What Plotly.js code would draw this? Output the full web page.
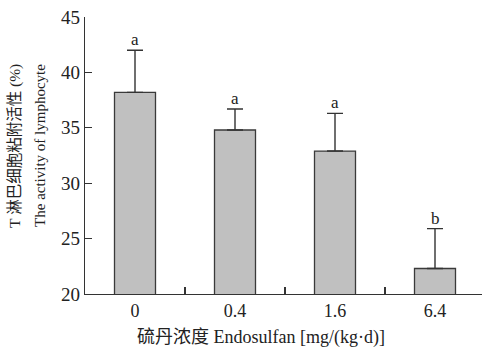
<!DOCTYPE html>
<html>
<head>
<meta charset="utf-8">
<script src="https://cdn.plot.ly/plotly-3.0.1.min.js"></script>
<style>html,body{margin:0;padding:0;background:#fff;}#chart{width:482px;height:347px;}</style>
</head>
<body>
<div id="chart"></div>
<script>
const categories = ["0", "0.4", "1.6", "6.4"];
const activity = [38.2, 34.8, 32.9, 22.3];
const errorUp = [3.8, 1.9, 3.4, 3.6];
const letters = ["a", "a", "a", "b"];
const yTicks = [20, 25, 30, 35, 40, 45];

const serif = "Liberation Serif, Noto Sans CJK SC, serif";

const trace = {
  type: "bar",
  x: categories,
  y: activity,
  width: 0.41,
  marker: {color: "#c0c0c0", line: {color: "#3a3a3a", width: 1.3}},
  error_y: {type: "data", symmetric: false, array: errorUp,
            arrayminus: activity.map(() => 0),
            color: "#333", thickness: 1.4, width: 8}
};

const annotations = categories.map((c, i) => ({
  x: i, y: activity[i] + errorUp[i], xref: "x", yref: "y",
  text: letters[i], showarrow: false, yanchor: "bottom", yshift: -1,
  font: {family: serif, size: 17, color: "#222"}
}));

annotations.push({
  xref: "paper", yref: "paper", x: -0.176, y: 0.535, xanchor: "center", yanchor: "middle",
  text: "T 淋巴细胞粘附活性 (%)", textangle: -90, showarrow: false,
  font: {family: serif, size: 15.5, color: "#222"}
});
annotations.push({
  xref: "paper", yref: "paper", x: -0.113, y: 0.535, xanchor: "center", yanchor: "middle",
  text: "The activity of lymphocyte", textangle: -90, showarrow: false,
  font: {family: serif, size: 15, color: "#222"}
});
annotations.push({
  xref: "paper", yref: "paper", x: 0.443, y: 0, yshift: -43, xanchor: "center", yanchor: "middle",
  text: "硫丹浓度 Endosulfan [mg/(kg·d)]", showarrow: false,
  font: {family: serif, size: 18, color: "#222"}
});

const layout = {
  width: 482, height: 347,
  margin: {l: 85, r: 0, t: 17, b: 53},
  paper_bgcolor: "#fff", plot_bgcolor: "#fff",
  showlegend: false,
  font: {family: serif, color: "#222"},
  xaxis: {
    type: "category", range: [-0.5, 3.47],
    showline: true, linecolor: "#333", linewidth: 1.3,
    ticks: "inside", tickson: "boundaries", ticklen: 7, tickcolor: "#333", tickwidth: 1.3,
    showgrid: false, zeroline: false,
    tickfont: {family: serif, size: 18, color: "#222"}
  },
  yaxis: {
    range: [20, 45], tickvals: yTicks, ticktext: yTicks.map(String),
    showline: true, linecolor: "#333", linewidth: 1.3,
    ticks: "inside", ticklen: 7, tickcolor: "#333", tickwidth: 1.3,
    showgrid: false, zeroline: false,
    tickfont: {family: serif, size: 19, color: "#222"}
  },
  annotations: annotations
};

Plotly.newPlot("chart", [trace], layout, {displayModeBar: false, staticPlot: true});
</script>
</body>
</html>
